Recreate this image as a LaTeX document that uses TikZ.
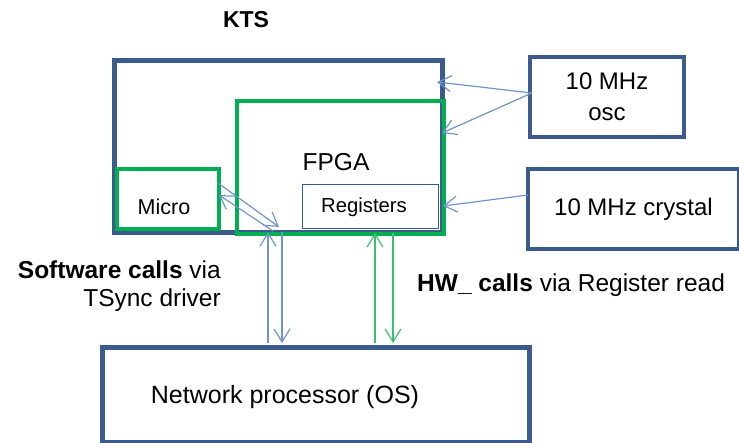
\documentclass[tikz,border=0pt]{standalone}
\usepackage{fontspec}
\setmainfont{Liberation Sans}
\usetikzlibrary{arrows.meta}
\definecolor{boxblue}{HTML}{3B5B8C}
\definecolor{boxgreen}{HTML}{00B050}
\definecolor{arrblue}{HTML}{6F94C9}
\definecolor{arrgreen}{HTML}{3CC070}
\tikzset{
  thickbox/.style={draw=boxblue, line width=5pt, rectangle, inner sep=0pt, anchor=north west},
  midbox/.style={draw=boxblue, line width=4pt, rectangle, inner sep=0pt, anchor=north west},
  greenbox/.style={draw=boxgreen, line width=4pt, rectangle, inner sep=0pt, anchor=north west},
  thinbox/.style={draw=boxblue, line width=1.3pt, rectangle, inner sep=0pt, anchor=north west},
  txt/.style={inner sep=0pt, text=black},
  barb/.tip={Straight Barb[length=13pt,width=16pt,line width=1.2pt]},
  bluearrow/.style={draw=arrblue, line width=1.2pt, -barb},
  greenarrow/.style={draw=arrgreen, line width=1.2pt, -barb},
}
\begin{document}
\begin{tikzpicture}[x=1pt,y=-1pt]
\useasboundingbox (0,0) rectangle (739,442);
% boxes
\node[thickbox, minimum width=328, minimum height=172] (kts) at (112,58) {};
\node[greenbox, minimum width=102, minimum height=60] (micro) at (115,167) {};
\node[greenbox, minimum width=207, minimum height=133] (fpga) at (235,99) {};
\node[thinbox, minimum width=136, minimum height=44] (regs) at (302,184) {};
\node[midbox, minimum width=154, minimum height=80, align=center, font=\fontsize{24}{31}\selectfont] (osc) at (528,55) {10 MHz\\osc};
\node[midbox, minimum width=211, minimum height=80, font=\fontsize{24}{28}\selectfont] (crystal) at (526,167) {10 MHz crystal};
\node[thickbox, minimum width=427, minimum height=95] (net) at (100,345) {};
% texts
\node[txt, font=\bfseries\fontsize{23}{26}\selectfont] (ktslabel) at (246,20) {KTS};
\node[txt, font=\fontsize{24.5}{28}\selectfont] (fpgalabel) at (336,162) {FPGA};
\node[txt, font=\fontsize{21.5}{25}\selectfont] (microlabel) at (164,207) {Micro};
\node[txt, font=\fontsize{20.3}{24}\selectfont] (regslabel) at (364,207) {Registers};
\node[txt, font=\fontsize{25}{29}\selectfont] (netlabel) at (285,397) {Network processor (OS)};
\node[txt, anchor=east, align=right, font=\fontsize{24.5}{28}\selectfont] (swlabel) at (221,286) {\textbf{Software calls} via\\TSync driver};
\node[txt, anchor=west, font=\fontsize{24.5}{28}\selectfont] (hwlabel) at (417,285) {\textbf{HW\_ calls} via Register read};
% connector end points
\coordinate (oscout) at (532,93);
\coordinate (ktsin) at (437,82);
\coordinate (fpgain) at (442,133);
\coordinate (crysout) at (528,195);
\coordinate (regsin) at (443,206);
\coordinate (mA) at (218,183);
\coordinate (mB) at (279,227);
\coordinate (mC) at (273,231);
\coordinate (mD) at (219,195);
\coordinate (bUpBot) at (268,343);
\coordinate (bUpTop) at (268,232);
\coordinate (bDnTop) at (282,232);
\coordinate (bDnBot) at (282,343);
\coordinate (gUpBot) at (375,343);
\coordinate (gUpTop) at (375,233);
\coordinate (gDnTop) at (393,233);
\coordinate (gDnBot) at (393,343);
% connectors
\draw[bluearrow] (oscout) -- (ktsin);
\draw[bluearrow] (oscout) -- (fpgain);
\draw[bluearrow] (crysout) -- (regsin);
\draw[bluearrow] (mA) -- (mB);
\draw[bluearrow] (mC) -- (mD);
\draw[bluearrow] (bUpBot) -- (bUpTop);
\draw[bluearrow] (bDnTop) -- (bDnBot);
\draw[greenarrow] (gUpBot) -- (gUpTop);
\draw[greenarrow] (gDnTop) -- (gDnBot);
\end{tikzpicture}
\end{document}
